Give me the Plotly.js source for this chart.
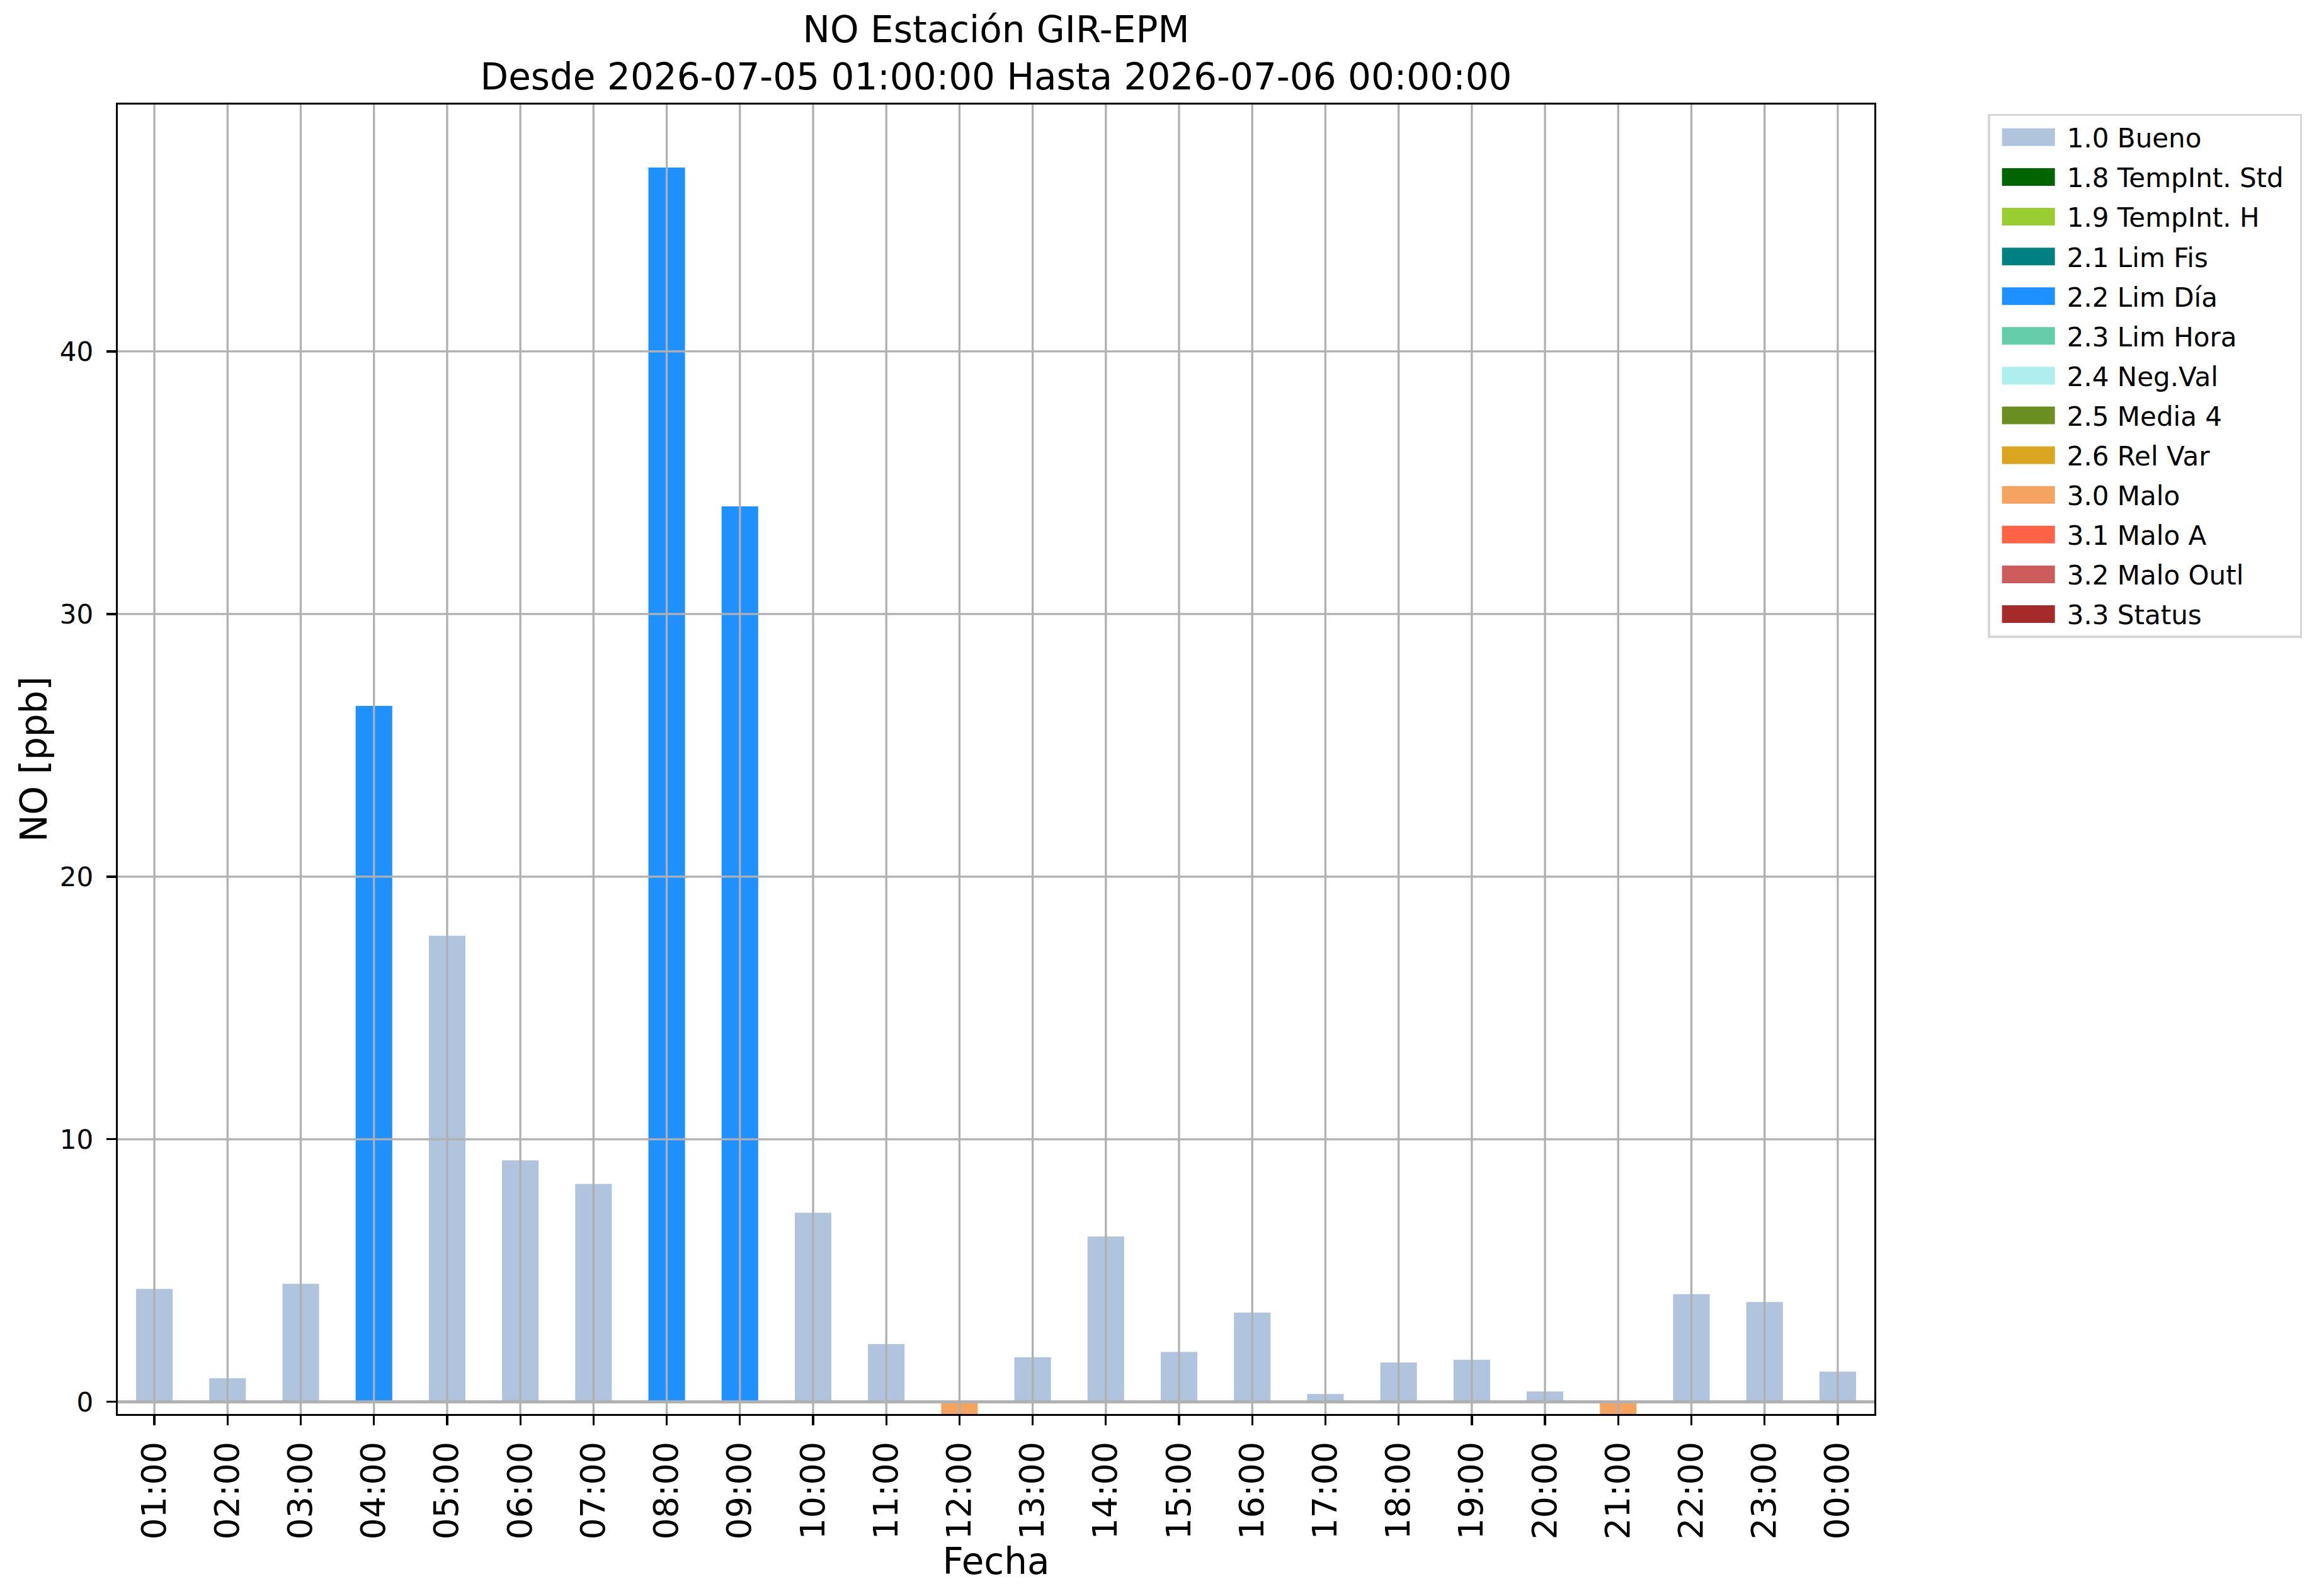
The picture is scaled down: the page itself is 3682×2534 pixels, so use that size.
<!DOCTYPE html>
<html>
<head>
<meta charset="utf-8">
<script src="https://cdn.plot.ly/plotly-3.0.1.min.js"></script>
<style>
html,body{margin:0;padding:0;background:#fff;}
#chart{width:3682px;height:2534px;}
</style>
</head>
<body>
<div id="chart"></div>
<script>
// ---- data ----
const hours = ["01:00","02:00","03:00","04:00","05:00","06:00","07:00","08:00","09:00","10:00","11:00","12:00",
               "13:00","14:00","15:00","16:00","17:00","18:00","19:00","20:00","21:00","22:00","23:00","00:00"];
const noValues = [4.3, 0.9, 4.5, 26.5, 17.75, 9.2, 8.3, 47.0, 34.1, 7.2, 2.2, -0.5,
                  1.7, 6.3, 1.9, 3.4, 0.3, 1.5, 1.6, 0.4, -0.5, 4.1, 3.8, 1.15];
const hourFlags = ["1.0","1.0","1.0","2.2","1.0","1.0","1.0","2.2","2.2","1.0","1.0","3.0",
                   "1.0","1.0","1.0","1.0","1.0","1.0","1.0","1.0","3.0","1.0","1.0","1.0"];
const flagCodes = ["1.0","1.8","1.9","2.1","2.2","2.3","2.4","2.5","2.6","3.0","3.1","3.2","3.3"];
const flagLabels = ["1.0 Bueno","1.8 TempInt. Std","1.9 TempInt. H","2.1 Lim Fis","2.2 Lim Día","2.3 Lim Hora",
                    "2.4 Neg.Val","2.5 Media 4","2.6 Rel Var","3.0 Malo","3.1 Malo A","3.2 Malo Outl","3.3 Status"];
const flagColors = ["#b0c4de","#006400","#9acd32","#008080","#1e90ff","#66cdaa","#afeeee",
                    "#6b8e23","#daa520","#f4a460","#ff6347","#cd5c5c","#a52a2a"];
const yTicks = [0, 10, 20, 30, 40];

const FONT = "DejaVu Sans, Liberation Sans, sans-serif";

const traces = flagCodes.map((code, k) => ({
  type: "bar",
  name: flagLabels[k],
  legendgroup: "g" + k,
  x: hours,
  y: noValues.map((v, i) => hourFlags[i] === code ? v : null),
  marker: {color: flagColors[k], line: {width: 0}},
  hoverinfo: "x+y+name"
}));

const gridColor = "#b0b0b0";
const gw = 3.3;
const shapes = [];
hours.forEach(h => shapes.push({type: "line", layer: "above", xref: "x", yref: "paper",
  x0: h, x1: h, y0: 0, y1: 1, line: {color: gridColor, width: gw}}));
yTicks.forEach(t => shapes.push({type: "line", layer: "above", xref: "paper", yref: "y",
  x0: 0, x1: 1, y0: t, y1: t, line: {color: gridColor, width: t === 0 ? 5 : gw}}));

const layout = {
  width: 3682, height: 2534,
  paper_bgcolor: "#ffffff", plot_bgcolor: "#ffffff",
  margin: {l: 187, r: 706, t: 166, b: 289, pad: 0},
  font: {family: FONT, color: "#000000", size: 42},
  title: {
    text: "NO Estación GIR-EPM<br>Desde 2026-07-05 01:00:00 Hasta 2026-07-06 00:00:00",
    font: {family: FONT, size: 58, color: "#000000"},
    x: 0.5, xref: "paper", xanchor: "center",
    y: 1 - 67/2534, yref: "container", yanchor: "top"
  },
  barmode: "relative",
  bargap: 0.5,
  showlegend: true,
  legend: {
    x: 1.0646, xanchor: "left", y: 0.993, yanchor: "top",
    xref: "paper", yref: "paper",
    bgcolor: "rgba(255,255,255,0.8)", bordercolor: "#d6d6d6", borderwidth: 3.5,
    font: {family: FONT, size: 42, color: "#000000"},
    traceorder: "grouped",
    tracegroupgap: 5.5,
    itemwidth: 112,
    itemclick: false, itemdoubleclick: false
  },
  xaxis: {
    type: "category",
    categoryorder: "array", categoryarray: hours,
    range: [-0.5, hours.length - 0.5],
    showgrid: false, zeroline: false,
    showline: true, mirror: true, linecolor: "#000000", linewidth: 3.3,
    ticks: "outside", ticklen: 15, tickwidth: 3.3, tickcolor: "#000000",
    tickangle: -90,
    tickfont: {family: FONT, size: 54, color: "#000000"},
    ticklabelstandoff: 4,
    title: {text: "Fecha", font: {family: FONT, size: 58, color: "#000000"}, standoff: 7},
    fixedrange: true
  },
  yaxis: {
    range: [-0.46, 49.4],
    tickvals: yTicks, ticktext: yTicks.map(String),
    showgrid: false, zeroline: false,
    showline: true, mirror: true, linecolor: "#000000", linewidth: 3.3,
    ticks: "outside", ticklen: 15, tickwidth: 3.3, tickcolor: "#000000",
    tickfont: {family: FONT, size: 42, color: "#000000"},
    ticklabelstandoff: 12,
    title: {text: "NO [ppb]", font: {family: FONT, size: 58, color: "#000000"}, standoff: 2},
    fixedrange: true
  },
  shapes: shapes
};

Plotly.newPlot("chart", traces, layout, {staticPlot: true, displayModeBar: false}).then(gd => {
  // enlarge legend swatches to matplotlib-like rectangles
  gd.querySelectorAll(".legend .legendpoints path").forEach(p => {
    p.setAttribute("d", "M42,14H-42V-14H42Z");
  });
  // widen legend frame slightly (matplotlib pads the right side)
  const bg = gd.querySelector(".legend rect.bg");
  if (bg) {
    const w = parseFloat(bg.getAttribute("width"));
    if (!isNaN(w)) bg.setAttribute("width", String(w + 20));
  }
});
</script>
</body>
</html>
